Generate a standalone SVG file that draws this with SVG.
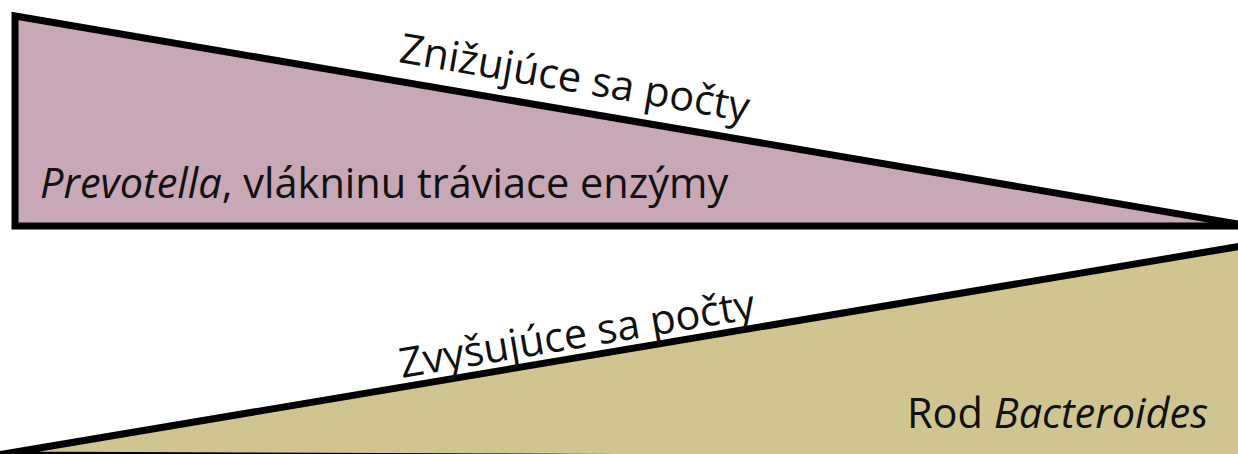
<svg xmlns="http://www.w3.org/2000/svg" width="1238" height="454" viewBox="0 0 1238 454">
  <style>
    .wedge { stroke: #000; stroke-width: 7; stroke-linejoin: miter; }
    .lbl { font-family: "Open Sans", "Noto Sans", "DejaVu Sans", sans-serif; font-size: 41.5px; fill: #111; }
    .it { font-style: italic; }
  </style>
  <rect width="1238" height="454" fill="#fff"/>
  <!-- decreasing wedge -->
  <g id="decreasing">
    <polygon class="wedge" points="15,16 15,226 1238,226 1238,224" fill="#C8A7B7"/>
    <text class="lbl" transform="translate(398,62) rotate(9.7)">Znižujúce sa počty</text>
    <text class="lbl" x="40" y="198"><tspan class="it">Prevotella</tspan>, vlákninu tráviace enzýmy</text>
  </g>
  <!-- increasing wedge -->
  <g id="increasing">
    <polygon class="wedge" points="-2,455 1242,246 1242,460" fill="#D0C590"/>
    <text class="lbl" transform="translate(402,378) rotate(-9.6)">Zvyšujúce sa počty</text>
    <text class="lbl" x="907" y="428">Rod <tspan class="it">Bacteroides</tspan></text>
  </g>
</svg>
